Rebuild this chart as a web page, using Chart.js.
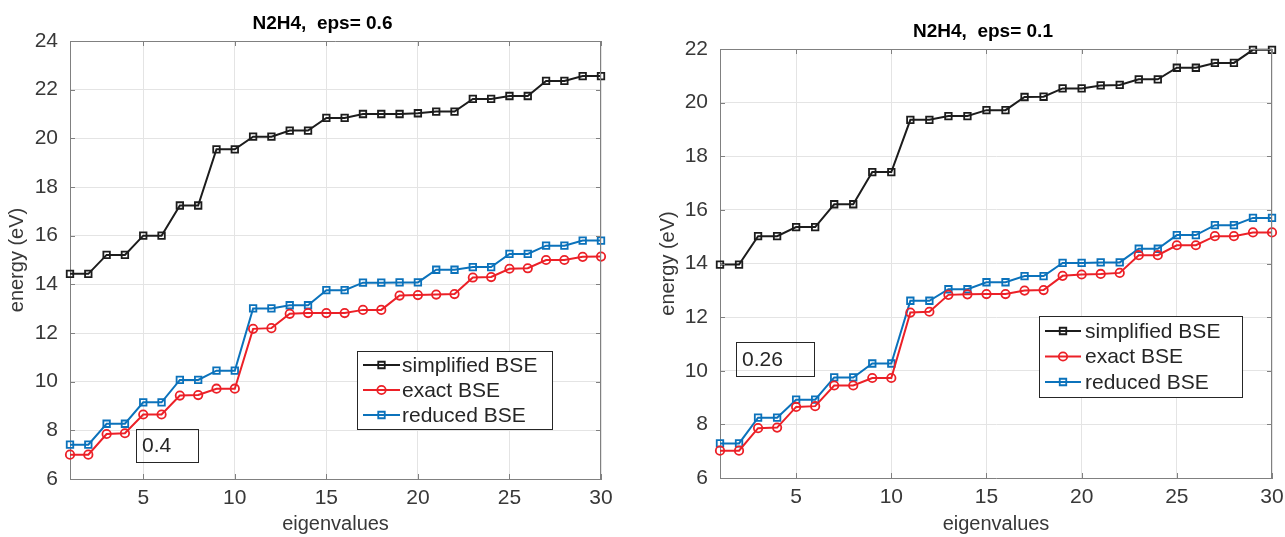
<!DOCTYPE html>
<html>
<head>
<meta charset="utf-8">
<script src="https://cdn.jsdelivr.net/npm/chart.js@4.4.1/dist/chart.umd.min.js"></script>
<style>
  html, body { margin: 0; padding: 0; background: #fff; overflow: hidden; }
  #wrap { position: relative; width: 1285px; height: 537px; overflow: hidden; }
  .box { position: absolute; top: 0; height: 537px; }
</style>
</head>
<body>
<div id="wrap">
  <div class="box" style="left:0;width:640px"><canvas id="leftChart"></canvas></div>
  <div class="box" style="left:640px;width:660px"><canvas id="rightChart"></canvas></div>
</div>
<script>
// eigenvalue index (x axis)
const eigIdx = [1,2,3,4,5,6,7,8,9,10,11,12,13,14,15,16,17,18,19,20,21,22,23,24,25,26,27,28,29,30];
const xTicks = [5, 10, 15, 20, 25, 30];
const seriesNames = ['simplified BSE', 'exact BSE', 'reduced BSE'];

// eps = 0.6 (left panel)
const simplified06 = [14.43,14.43,15.21,15.21,16.0,16.0,17.24,17.24,19.55,19.55,20.07,20.07,20.32,20.32,20.84,20.84,21.0,21.0,21.0,21.03,21.1,21.1,21.62,21.62,21.74,21.74,22.36,22.36,22.56,22.56];
const exact06 = [7.0,7.0,7.85,7.88,8.65,8.65,9.43,9.45,9.71,9.71,12.17,12.2,12.79,12.82,12.82,12.82,12.95,12.95,13.54,13.56,13.58,13.6,14.28,14.3,14.64,14.66,15.0,15.0,15.13,15.14];
const reduced06 = [7.41,7.41,8.27,8.27,9.15,9.15,10.07,10.07,10.45,10.45,13.01,13.01,13.14,13.14,13.76,13.76,14.07,14.07,14.08,14.08,14.6,14.6,14.71,14.71,15.25,15.25,15.59,15.59,15.8,15.8];
const yTicks06 = [6, 8, 10, 12, 14, 16, 18, 20, 22, 24];

// eps = 0.1 (right panel)
const simplified01 = [13.96,13.96,15.02,15.02,15.36,15.36,16.21,16.21,17.41,17.41,19.36,19.36,19.5,19.5,19.72,19.72,20.21,20.22,20.53,20.53,20.64,20.66,20.87,20.87,21.3,21.3,21.48,21.48,21.97,21.97];
const exact01 = [7.02,7.02,7.86,7.88,8.65,8.68,9.45,9.45,9.73,9.73,12.17,12.2,12.83,12.85,12.86,12.86,12.99,13.01,13.54,13.59,13.61,13.65,14.31,14.31,14.68,14.68,15.02,15.02,15.16,15.16];
const reduced01 = [7.29,7.29,8.25,8.25,8.92,8.92,9.75,9.75,10.27,10.27,12.61,12.61,13.04,13.04,13.3,13.3,13.53,13.53,14.02,14.02,14.04,14.04,14.55,14.55,15.06,15.06,15.43,15.43,15.7,15.7];
const yTicks01 = [6, 8, 10, 12, 14, 16, 18, 20, 22];

const FONT = "'Liberation Sans', Arial, Helvetica, sans-serif";
const AXIS_COLOR = '#808080';
const TEXT_COLOR = '#383838';
const styles = [
  { color: '#1c1c1c', point: 'rect', radius: 4.6 },
  { color: '#ec2027', point: 'circle', radius: 4.2 },
  { color: '#0b72bb', point: 'rect', radius: 4.6 }
];

function makeDatasets(values) {
  return values.map((vals, i) => ({
    label: seriesNames[i],
    data: eigIdx.map((x, k) => ({ x: x, y: vals[k] })),
    borderColor: styles[i].color,
    backgroundColor: 'rgba(255,255,255,0)',
    borderWidth: 2,
    pointStyle: styles[i].point,
    pointRadius: styles[i].radius,
    pointBorderWidth: 1.8,
    pointBorderColor: styles[i].color,
    pointBackgroundColor: 'rgba(255,255,255,0)',
    tension: 0,
    clip: false
  }));
}

// frame, inner ticks, title, legend box and text note
const matlabDecor = {
  id: 'matlabDecor',
  afterDraw(chart, args, opts) {
    const { ctx, chartArea: a, scales } = chart;
    ctx.save();
    // top/right box edges
    ctx.strokeStyle = AXIS_COLOR;
    ctx.lineWidth = 1;
    ctx.beginPath();
    ctx.moveTo(a.left, a.top + 0.5); ctx.lineTo(a.right, a.top + 0.5);
    ctx.moveTo(a.right - 0.5, a.top); ctx.lineTo(a.right - 0.5, a.bottom);
    // inward ticks on all sides
    xTicks.forEach(v => {
      const px = Math.round(scales.x.getPixelForValue(v)) + 0.5;
      ctx.moveTo(px, a.bottom); ctx.lineTo(px, a.bottom - 5);
      ctx.moveTo(px, a.top); ctx.lineTo(px, a.top + 5);
    });
    opts.yTicks.forEach(v => {
      const py = Math.round(scales.y.getPixelForValue(v)) + 0.5;
      ctx.moveTo(a.left, py); ctx.lineTo(a.left + 5, py);
      ctx.moveTo(a.right, py); ctx.lineTo(a.right - 5, py);
    });
    ctx.stroke();

    // title
    ctx.fillStyle = '#000';
    ctx.font = 'bold 19px ' + FONT;
    ctx.textAlign = 'center';
    ctx.textBaseline = 'alphabetic';
    ctx.fillText(opts.title, (a.left + a.right) / 2 - 13, a.top - 12);

    // legend
    const L = opts.legend;
    ctx.fillStyle = '#fff';
    ctx.fillRect(L.x, L.y, L.w, L.h);
    ctx.strokeStyle = '#262626';
    ctx.lineWidth = 1;
    ctx.strokeRect(L.x + 0.5, L.y + 0.5, L.w, L.h);
    ctx.font = '21px ' + FONT;
    ctx.textAlign = 'left';
    ctx.textBaseline = 'middle';
    seriesNames.forEach((name, i) => {
      const cy = L.y + L.rowTop + i * L.rowH;
      const st = styles[i];
      ctx.strokeStyle = st.color;
      ctx.lineWidth = 2;
      ctx.beginPath();
      ctx.moveTo(L.x + L.lineFrom, cy);
      ctx.lineTo(L.x + L.lineTo, cy);
      ctx.stroke();
      const mx = L.x + (L.lineFrom + L.lineTo) / 2;
      ctx.lineWidth = 1.8;
      ctx.beginPath();
      if (st.point === 'circle') {
        ctx.arc(mx, cy, st.radius, 0, Math.PI * 2);
      } else {
        const s = st.radius * Math.SQRT1_2;
        ctx.rect(mx - s, cy - s, 2 * s, 2 * s);
      }
      ctx.stroke();
      ctx.fillStyle = '#262626';
      ctx.fillText(name, L.x + L.textX, cy + 1);
    });

    // text note box
    const N = opts.note;
    ctx.strokeStyle = '#262626';
    ctx.lineWidth = 1;
    ctx.strokeRect(N.x + 0.5, N.y + 0.5, N.w, N.h);
    ctx.fillStyle = '#262626';
    ctx.font = '21px ' + FONT;
    ctx.fillText(N.text, N.x + 6, N.y + N.h / 2 + 1);
    ctx.restore();
  }
};

function buildChart(id, values, yTicks, yMax, geom, decor) {
  const ctx = document.getElementById(id).getContext('2d');
  return new Chart(ctx, {
    type: 'line',
    data: { datasets: makeDatasets(values) },
    options: {
      responsive: true,
      maintainAspectRatio: false,
      animation: false,
      events: [],
      layout: { padding: { left: 0, top: geom.top, right: geom.right, bottom: 0 } },
      scales: {
        x: {
          type: 'linear',
          min: 1,
          max: 30,
          afterBuildTicks: (scale) => { scale.ticks = xTicks.map(v => ({ value: v })); },
          afterFit: (scale) => { scale.height = geom.xHeight; },
          grid: { color: '#e4e4e4', lineWidth: 1, drawTicks: false },
          border: { color: AXIS_COLOR, width: 1 },
          ticks: { color: TEXT_COLOR, font: { family: FONT, size: 21 }, padding: 7, maxRotation: 0 },
          title: { display: true, text: 'eigenvalues', color: TEXT_COLOR, font: { family: FONT, size: 20 }, padding: { top: 0, bottom: 1 } }
        },
        y: {
          min: 6,
          max: yMax,
          afterBuildTicks: (scale) => { scale.ticks = yTicks.map(v => ({ value: v })); },
          afterFit: (scale) => { scale.width = geom.yWidth; },
          grid: { color: '#e4e4e4', lineWidth: 1, drawTicks: false },
          border: { color: AXIS_COLOR, width: 1 },
          ticks: { color: TEXT_COLOR, font: { family: FONT, size: 21 }, padding: 12 },
          title: { display: true, text: 'energy (eV)', color: TEXT_COLOR, font: { family: FONT, size: 20 }, padding: { top: geom.yTitlePad, bottom: 0 } }
        }
      },
      plugins: {
        legend: { display: false },
        tooltip: { enabled: false },
        matlabDecor: Object.assign({ yTicks: yTicks }, decor)
      }
    },
    plugins: [matlabDecor]
  });
}

buildChart('leftChart', [simplified06, exact06, reduced06], yTicks06, 24,
  { top: 41, right: 39, xHeight: 58, yWidth: 70, yTitlePad: 5 },
  {
    title: 'N2H4,  eps= 0.6',
    legend: { x: 357, y: 351, w: 195, h: 78, rowTop: 14, rowH: 25, lineFrom: 6, lineTo: 43, textX: 45 },
    note: { x: 136, y: 429, w: 62, h: 33, text: '0.4' }
  });

buildChart('rightChart', [simplified01, exact01, reduced01], yTicks01, 22,
  { top: 49, right: 28, xHeight: 59, yWidth: 80, yTitlePad: 16 },
  {
    title: 'N2H4,  eps= 0.1',
    legend: { x: 399, y: 316, w: 203, h: 81, rowTop: 15, rowH: 25.5, lineFrom: 6, lineTo: 42, textX: 46 },
    note: { x: 96, y: 342, w: 78, h: 34, text: '0.26' }
  });
</script>
</body>
</html>
